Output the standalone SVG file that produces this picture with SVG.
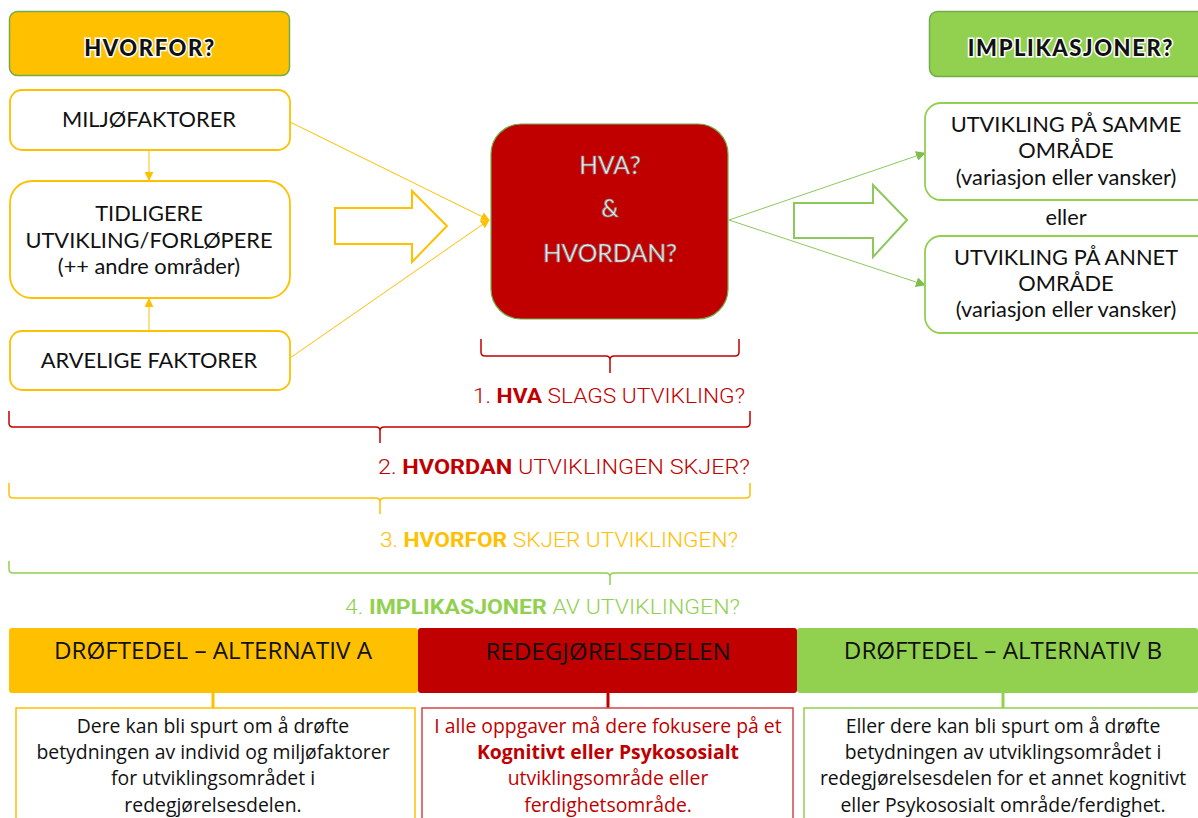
<svg xmlns="http://www.w3.org/2000/svg" width="1198" height="818" viewBox="0 0 1198 818">
<defs>
<style>
.top{font-family:Lato,"Noto Sans",sans-serif;font-size:21.8px;fill:#111;text-anchor:middle}
.hdr{font-family:Lato,"Noto Sans",sans-serif;font-size:22px;font-weight:900;fill:#111;stroke:#fff;stroke-width:3;paint-order:stroke;letter-spacing:1.6px;text-anchor:middle}
.hva{font-family:Lato,"Noto Sans",sans-serif;font-size:24.5px;fill:#f0f0f0;stroke:#808080;stroke-width:0.7;text-anchor:middle}
.q{font-family:Roboto,"Noto Sans",sans-serif;font-size:20px;font-weight:300}
.q tspan.b{font-weight:700}
.tab{font-family:"Open Sans","Noto Sans",sans-serif;font-size:24.2px;fill:#111;text-anchor:middle}
.body{font-family:"Open Sans","Noto Sans",sans-serif;font-size:19.4px;fill:#111;text-anchor:middle}
.ybox{fill:#fff;stroke:#FFC000;stroke-width:1.8}
.gbox{fill:#fff;stroke:#92D050;stroke-width:1.8}
.oline{stroke:#FFC000;stroke-width:1;fill:none}
.gline{stroke:#8CC85A;stroke-width:1;fill:none}
</style>
<marker id="ao" viewBox="0 0 10 10" refX="9" refY="5" markerWidth="9" markerHeight="9" markerUnits="userSpaceOnUse" orient="auto"><path d="M0,0L10,5L0,10z" fill="#FFC000"/></marker>
<marker id="ag" viewBox="0 0 10 10" refX="9" refY="5" markerWidth="10" markerHeight="10" markerUnits="userSpaceOnUse" orient="auto"><path d="M0,0L10,5L0,10z" fill="#7DBE4C"/></marker>
</defs>
<rect width="1198" height="818" fill="#fff"/>

<g id="connectors">
<line class="oline" x1="149" y1="150" x2="149" y2="180" marker-end="url(#ao)"/>
<line class="oline" x1="149" y1="331" x2="149" y2="299" marker-end="url(#ao)"/>
<line class="oline" x1="290" y1="122" x2="489" y2="220" marker-end="url(#ao)"/>
<line class="oline" x1="290" y1="358" x2="489" y2="220" marker-end="url(#ao)"/>
<path d="M335,208H412V191L447,226L412,262V244H335Z" fill="#fff" stroke="#FFC000" stroke-width="2"/>
<line class="gline" x1="729" y1="220" x2="925" y2="153" marker-end="url(#ag)"/>
<line class="gline" x1="729" y1="220" x2="925" y2="285" marker-end="url(#ag)"/>
<path d="M794,203H873V185L907,220L873,257V238H794Z" fill="#fff" stroke="#8CC85A" stroke-width="2"/>
<path d="M481,339V352Q481,356 485,356H606Q610,356 610,360V373M610,360Q610,356 614,356H735Q739,356 739,352V339" fill="none" stroke="#C00000" stroke-width="1.5"/>
<path d="M9,411V423Q9,427 13,427H376Q380,427 380,431V443M380,431Q380,427 384,427H746Q750,427 750,423V411" fill="none" stroke="#C00000" stroke-width="1.5"/>
<path d="M9,483V494Q9,498 13,498H376Q380,498 380,502V514M380,502Q380,498 384,498H746Q750,498 750,494V483" fill="none" stroke="#FFC000" stroke-width="1.5"/>
<path d="M9,561V569Q9,573 13,573H606Q610,573 610,577V585M610,577Q610,573 614,573H1198" fill="none" stroke="#92D050" stroke-width="1.5"/>
<line x1="213" y1="692" x2="213" y2="708" stroke="#FFC000" stroke-width="3"/>
<line x1="608" y1="692" x2="608" y2="708" stroke="#C00000" stroke-width="3"/>
<line x1="1003" y1="692" x2="1003" y2="708" stroke="#92D050" stroke-width="3"/>
</g>

<g id="hvorfor">
<rect x="9.5" y="11.5" width="280" height="64" rx="8" fill="#FFC000" stroke="#70AD47" stroke-width="1.5"/>
<text class="hdr" x="150" y="56">HVORFOR?</text>
</g>
<g id="implikasjoner">
<rect x="929.5" y="11.5" width="280" height="65" rx="8" fill="#92D050" stroke="#70AD47" stroke-width="1.5"/>
<text class="hdr" x="1071" y="56">IMPLIKASJONER?</text>
</g>

<g id="miljo">
<rect class="ybox" x="10" y="90" width="280" height="60" rx="12"/>
<text class="top" x="149" y="127">MILJØFAKTORER</text>
</g>
<g id="tidligere">
<rect class="ybox" x="10" y="181" width="280" height="117" rx="22"/>
<text class="top" x="149" y="221">TIDLIGERE</text>
<text class="top" x="149" y="248">UTVIKLING/FORLØPERE</text>
<text class="top" x="149" y="274">(++ andre områder)</text>
</g>
<g id="arvelige">
<rect class="ybox" x="10" y="331" width="280" height="59" rx="12"/>
<text class="top" x="149" y="368">ARVELIGE FAKTORER</text>
</g>

<g id="hva">
<rect x="491" y="124" width="237" height="195" rx="30" fill="#C00000" stroke="#70AD47" stroke-width="1.2"/>
<text class="hva" x="610" y="174">HVA?</text>
<text class="hva" x="610" y="217">&amp;</text>
<text class="hva" x="610" y="262">HVORDAN?</text>
</g>

<g id="samme">
<rect class="gbox" x="925" y="103" width="290" height="97" rx="16"/>
<text class="top" x="1066" y="132">UTVIKLING PÅ SAMME</text>
<text class="top" x="1066" y="158">OMRÅDE</text>
<text class="top" x="1066" y="185">(variasjon eller vansker)</text>
</g>
<text class="top" x="1066" y="225">eller</text>
<g id="annet">
<rect class="gbox" x="925" y="236" width="290" height="97" rx="16"/>
<text class="top" x="1066" y="265">UTVIKLING PÅ ANNET</text>
<text class="top" x="1066" y="291">OMRÅDE</text>
<text class="top" x="1066" y="317">(variasjon eller vansker)</text>
</g>

<g id="q1"><text class="q" x="473" y="403" fill="#C00000" textLength="272" lengthAdjust="spacingAndGlyphs">1. <tspan class="b">HVA</tspan> SLAGS UTVIKLING?</text></g>
<g id="q2"><text class="q" x="378" y="474" fill="#C00000" textLength="372" lengthAdjust="spacingAndGlyphs">2. <tspan class="b">HVORDAN</tspan> UTVIKLINGEN SKJER?</text></g>
<g id="q3"><text class="q" x="380" y="547" fill="#FFC000" textLength="358" lengthAdjust="spacingAndGlyphs">3. <tspan class="b">HVORFOR</tspan> SKJER UTVIKLINGEN?</text></g>
<g id="q4"><text class="q" x="345" y="614" fill="#92D050" textLength="395" lengthAdjust="spacingAndGlyphs">4. <tspan class="b">IMPLIKASJONER</tspan> AV UTVIKLINGEN?</text></g>

<g id="tabA">
<rect x="9" y="628" width="409" height="65" rx="3" fill="#FFC000"/>
<text class="tab" x="213" y="659">DRØFTEDEL – ALTERNATIV A</text>
</g>
<g id="tabR">
<rect x="418" y="628" width="379" height="65" rx="3" fill="#C00000"/>
<text class="tab" x="608" y="660">REDEGJØRELSEDELEN</text>
</g>
<g id="tabB">
<rect x="797" y="628" width="401" height="65" rx="3" fill="#92D050"/>
<text class="tab" x="1003" y="659">DRØFTEDEL – ALTERNATIV B</text>
</g>

<g id="boxA">
<rect x="16" y="708" width="399" height="120" fill="#fff" stroke="#FFC000" stroke-width="1.5"/>
<text class="body" x="213" y="733">Dere kan bli spurt om å drøfte</text>
<text class="body" x="213" y="759">betydningen av individ og miljøfaktorer</text>
<text class="body" x="213" y="785">for utviklingsområdet i</text>
<text class="body" x="213" y="812">redegjørelsesdelen.</text>
</g>
<g id="boxR">
<rect x="422" y="708" width="371" height="120" fill="#fff" stroke="#D04848" stroke-width="1.5"/>
<text class="body" x="608" y="733" style="fill:#C00000">I alle oppgaver må dere fokusere på et</text>
<text class="body" x="608" y="759" style="fill:#C00000;font-weight:700">Kognitivt eller Psykososialt</text>
<text class="body" x="608" y="785" style="fill:#C00000">utviklingsområde eller</text>
<text class="body" x="608" y="812" style="fill:#C00000">ferdighetsområde.</text>
</g>
<g id="boxB">
<rect x="804" y="708" width="410" height="120" fill="#fff" stroke="#92D050" stroke-width="1.5"/>
<text class="body" x="1003" y="733">Eller dere kan bli spurt om å drøfte</text>
<text class="body" x="1003" y="759">betydningen av utviklingsområdet i</text>
<text class="body" x="1003" y="785">redegjørelsesdelen for et annet kognitivt</text>
<text class="body" x="1003" y="812">eller Psykososialt område/ferdighet.</text>
</g>
</svg>
